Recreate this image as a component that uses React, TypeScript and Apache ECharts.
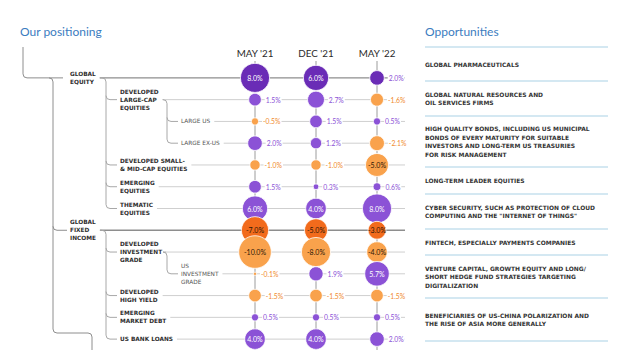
import React, { useEffect, useRef } from 'react';
import * as echarts from 'echarts';

const periods = ["MAY '21", "DEC '21", "MAY '22"];
const rowLabels = [
  'GLOBAL\nEQUITY',
  'DEVELOPED\nLARGE-CAP\nEQUITIES',
  'LARGE US',
  'LARGE EX-US',
  'DEVELOPED SMALL-\n& MID-CAP EQUITIES',
  'EMERGING\nEQUITIES',
  'THEMATIC\nEQUITIES',
  'GLOBAL\nFIXED\nINCOME',
  'DEVELOPED\nINVESTMENT\nGRADE',
  'US\nINVESTMENT\nGRADE',
  'DEVELOPED\nHIGH YIELD',
  'EMERGING\nMARKET DEBT',
  'US BANK LOANS',
];
const rowLevels = [1, 2, 3, 3, 2, 2, 2, 1, 2, 3, 2, 2, 2];
const rowParents = [-1, 0, 1, 1, 0, 0, 0, -1, 7, 8, 7, 7, 7];
const may21 = [8.0, 1.5, -0.5, 2.0, -1.0, 1.5, 6.0, -7.0, -10.0, -0.1, -1.5, 0.5, 4.0];
const dec21 = [6.0, 2.7, 1.5, 1.2, -1.0, 0.3, 4.0, -5.0, -8.0, 1.9, -1.5, 0.5, 4.0];
const may22 = [2.0, -1.6, 0.5, -2.1, -5.0, 0.6, 8.0, -3.0, -4.0, 5.7, -1.5, 0.5, 2.0];
const opportunities = [
  'GLOBAL PHARMACEUTICALS',
  'GLOBAL NATURAL RESOURCES AND\nOIL SERVICES FIRMS',
  'HIGH QUALITY BONDS, INCLUDING US MUNICIPAL\nBONDS OF EVERY MATURITY FOR SUITABLE\nINVESTORS AND LONG-TERM US TREASURIES\nFOR RISK MANAGEMENT',
  'LONG-TERM LEADER EQUITIES',
  'CYBER SECURITY, SUCH AS PROTECTION OF CLOUD\nCOMPUTING AND THE "INTERNET OF THINGS"',
  'FINTECH, ESPECIALLY PAYMENTS COMPANIES',
  'VENTURE CAPITAL, GROWTH EQUITY AND LONG/\nSHORT HEDGE FUND STRATEGIES TARGETING\nDIGITALIZATION',
  'BENEFICIARIES OF US-CHINA POLARIZATION AND\nTHE RISE OF ASIA MORE GENERALLY',
];

// layout (pixels)
const dividerYs = [47, 81, 116, 167, 194, 229, 255, 298, 341];
const levelX = { 1: 70, 2: 120, 3: 181 } as Record<number, number>;

const PURPLE = '#8b52d6';
const DPURPLE = '#6a2cb6';
const ORANGE = '#f9a24c';
const DORANGE = '#f26b1c';
const BLUE = '#3b7cc0';
const LABEL_FONT = 'DejaVu Sans';
const LABEL_SIZE = 5.8;

export default function App() {
  const ref = useRef<HTMLDivElement>(null);
  useEffect(() => {
    document.body.style.margin = '0';
    const chart = echarts.init(ref.current!, null, { renderer: 'svg' });
    const cols = [may21, dec21, may22];
    const data: any[] = [];
    cols.forEach((col, j) =>
      col.forEach((v, i) => {
        const l1 = rowLevels[i] === 1;
        const pos = v >= 0;
        const color = pos ? (l1 ? DPURPLE : PURPLE) : l1 ? DORANGE : ORANGE;
        const inside = Math.abs(v) >= 3;
        data.push({
          value: [j, i, v],
          itemStyle: { color },
          label: inside
            ? { position: 'inside', color: pos ? '#ffffff' : '#2b1606', fontSize: 7, fontFamily: 'Lato' }
            : {
                position: 'right',
                distance: 3,
                color: pos ? PURPLE : '#f08a2e',
                fontSize: 6.8,
                fontFamily: 'Lato',
                backgroundColor: '#ffffff',
                padding: [0, 1],
              },
        });
      })
    );

    chart.setOption({
      animation: false,
      grid: { left: 224.5, width: 183, top: 67, height: 289.25 },
      xAxis: {
        type: 'category',
        data: periods,
        position: 'top',
        axisLine: { show: false },
        axisTick: { show: false },
        splitLine: { show: false },
        axisLabel: { margin: 9, fontSize: 9.8, color: '#2a2a2a', fontFamily: 'Lato' },
      },
      yAxis: {
        type: 'category',
        data: rowLabels.map((_, i) => String(i)),
        inverse: true,
        show: false,
      },
      series: [
        {
          type: 'scatter',
          data,
          symbolSize: (val: number[]) => 10.3 * Math.sqrt(Math.abs(val[2])),
          itemStyle: { borderColor: '#ffffff', borderWidth: 0.8, opacity: 1 },
          label: {
            show: true,
            formatter: (p: any) => p.value[2].toFixed(1) + '%',
          },
          z: 3,
        },
      ],
    });

    const rowY = rowLabels.map((_, i) => chart.convertToPixel({ yAxisIndex: 0 }, i) as number);
    const colX = periods.map((_, j) => chart.convertToPixel({ xAxisIndex: 0 }, j) as number);

    const cvs = document.createElement('canvas');
    const ctx = cvs.getContext('2d')!;
    const measure = (s: string, weight: string, size: number) => {
      ctx.font = `${weight} ${size}px "${LABEL_FONT}"`;
      return Math.max(...s.split('\n').map((l) => ctx.measureText(l).width));
    };

    const g: any[] = [];
    const r = 4;
    const TREE = '#a8a8a8';
    const seg = (x1: number, y1: number, x2: number, y2: number, stroke = TREE, w = 1) =>
      g.push({ type: 'line', z: 0, shape: { x1, y1, x2, y2 }, style: { stroke, lineWidth: w } });
    const downRight = (x: number, y: number, stroke = TREE) =>
      g.push({
        type: 'arc',
        z: 0,
        shape: { cx: x + r, cy: y - r, r, startAngle: Math.PI / 2, endAngle: Math.PI, clockwise: true },
        style: { stroke, lineWidth: 1, fill: null },
      });
    const rightDown = (x: number, y: number, stroke = TREE) =>
      g.push({
        type: 'arc',
        z: 0,
        shape: { cx: x - r, cy: y + r, r, startAngle: -Math.PI / 2, endAngle: 0, clockwise: true },
        style: { stroke, lineWidth: 1, fill: null },
      });

    // column verticals
    colX.forEach((x) => seg(x, 61, x, 350, '#9c9c9c', 1));

    // row labels and row lines
    const lineStart: number[] = [];
    rowLabels.forEach((lab, i) => {
      const lv = rowLevels[i];
      const x = levelX[lv];
      const weight = lv === 3 ? 'normal' : 'bold';
      const w = measure(lab, weight, LABEL_SIZE);
      g.push({
        type: 'text',
        z: 1,
        style: {
          text: lab,
          x,
          y: rowY[i],
          fill: lv === 3 ? '#555555' : '#2e2e2e',
          fontSize: LABEL_SIZE,
          fontWeight: weight,
          fontFamily: LABEL_FONT,
          lineHeight: 8,
          verticalAlign: 'middle',
          align: 'left',
        },
      });
      const xs = x + w + 4;
      lineStart[i] = xs;
      seg(xs, rowY[i], 405, rowY[i], lv === 1 ? '#8e8e8e' : '#cfcfcf', lv === 1 ? 1.3 : 1);
    });

    // trunk
    const y0 = rowY[0];
    seg(23, 47, 23, y0 - r, '#8e8e8e');
    downRight(23, y0, '#8e8e8e');
    seg(23 + r, y0, levelX[1] - 7, y0, '#8e8e8e');
    // level-1 vertical
    const v1 = 53;
    rightDown(v1, y0, '#8e8e8e');
    const lastY = 333;
    seg(v1, y0 + r, v1, lastY - r, '#8e8e8e');
    rowLabels.forEach((_, i) => {
      if (rowLevels[i] === 1 && i > 0) {
        downRight(v1, rowY[i], '#8e8e8e');
        seg(v1 + r, rowY[i], levelX[1] - 3, rowY[i], '#8e8e8e');
      }
    });
    downRight(v1, lastY, '#8e8e8e');
    seg(v1 + r, lastY, 92 - r, lastY, '#8e8e8e');
    rightDown(92, lastY, '#8e8e8e');
    seg(92, lastY + r, 92, 350, '#8e8e8e');

    // lower levels
    rowLabels.forEach((_, p) => {
      const kids = rowParents.map((pp, k) => (pp === p ? k : -1)).filter((k) => k >= 0);
      if (!kids.length) return;
      const childLv = rowLevels[kids[0]];
      const vx = childLv === 2 ? 106 : 167;
      const py = rowY[p];
      seg(lineStart[p], py, vx - r, py);
      rightDown(vx, py);
      const lastKid = rowY[kids[kids.length - 1]];
      seg(vx, py + r, vx, lastKid - r);
      kids.forEach((k) => {
        downRight(vx, rowY[k]);
        seg(vx + r, rowY[k], levelX[childLv] - 3, rowY[k]);
      });
    });

    // titles
    g.push({
      type: 'text',
      z: 1,
      style: { text: 'Our positioning', x: 20, y: 31, fill: BLUE, fontSize: 12, fontFamily: 'Lato', verticalAlign: 'middle' },
    });
    g.push({
      type: 'text',
      z: 1,
      style: { text: 'Opportunities', x: 425, y: 31, fill: BLUE, fontSize: 12, fontFamily: 'Lato', verticalAlign: 'middle' },
    });

    // opportunities list
    dividerYs.forEach((y) => seg(425, y, 608, y, '#a9d2e6', 1.2));
    opportunities.forEach((t, k) => {
      const cy = (dividerYs[k] + dividerYs[k + 1]) / 2;
      g.push({
        type: 'text',
        z: 1,
        style: {
          text: t,
          x: 425,
          y: cy,
          fill: '#333333',
          fontSize: 5.95,
          fontWeight: 'bold',
          fontFamily: LABEL_FONT,
          lineHeight: 8.5,
          verticalAlign: 'middle',
          align: 'left',
        },
      });
    });

    chart.setOption({ graphic: g });

    return () => chart.dispose();
  }, []);

  return <div ref={ref} style={{ width: 640, height: 350 }} />;
}
